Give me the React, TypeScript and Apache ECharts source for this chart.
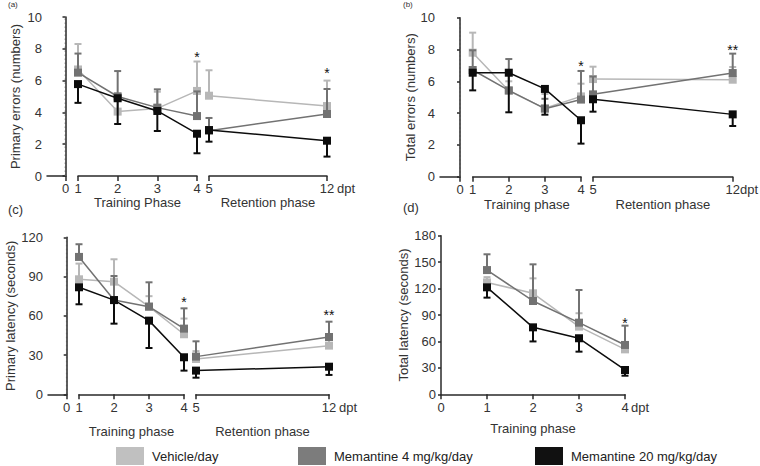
import React, { useEffect, useRef } from 'react';
import * as echarts from 'echarts';

// ---------- data ----------
const trainDays = [1, 2, 3, 4];
const retentionDays = [5, 12];
const groupNames = ['Vehicle/day', 'Memantine 4 mg/kg/day', 'Memantine 20 mg/kg/day'];

// values at days 1,2,3,4 (training) and 5,12 (retention)
// (a) Primary errors (numbers)
const aVehicle = [6.7, 4.05, 4.25, 5.35, 5.05, 4.4];
const aVehicleSem = [1.6, 1.15, 1.05, 1.85, 1.6, 1.6];
const aMem4 = [6.5, 5.0, 4.3, 3.77, 2.85, 3.9];
const aMem4Sem = [1.2, 1.6, 1.15, 1.55, 0.8, 1.57];
const aMem20 = [5.78, 4.89, 4.09, 2.66, 2.89, 2.22];
const aMem20Sem = [1.18, 1.62, 1.26, 1.23, 0.73, 1.0];
const aStars: [number, number, string][] = [[4, 7.75, '*'], [12, 6.7, '*']];

// (b) Total errors (numbers)
const bVehicle = [7.8, 5.4, 4.3, 5.05, 6.14, 6.1];
const bVehicleSem = [1.26, 0.6, 0.9, 0.8, 0.78, 0.8];
const bMem4 = [6.71, 5.43, 4.28, 4.85, 5.18, 6.52];
const bMem4Sem = [1.24, 1.97, 0.62, 1.8, 1.12, 1.22];
const bMem20 = [6.54, 6.54, 5.52, 3.55, 4.87, 3.92];
const bMem20Sem = [1.11, 2.49, 1.62, 1.47, 0.78, 0.73];
const bStars: [number, number, string][] = [[4, 7.23, '*'], [12, 8.22, '**']];

// (c) Primary latency (seconds)
const cVehicle = [87.9, 86.1, 67, 45.9, 27, 37.2];
const cVehicleSem = [12, 17.1, 8, 12, 6, 5];
const cMem4 = [105, 72.1, 67, 50.2, 28.8, 43.8];
const cMem4Sem = [9.7, 18.3, 18.6, 15.5, 11.7, 11.7];
const cMem20 = [81.8, 72, 56.3, 28.3, 18.1, 21.1];
const cMem20Sem = [13, 18, 20.9, 10.2, 5.4, 6.3];
const cStars: [number, number, string][] = [[4, 73.4, '*'], [12, 63.7, '**']];

// (d) Total latency (seconds), training days only
const dVehicle = [127, 114.6, 76.8, 51];
const dVehicleSem = [6, 17, 15.2, 7];
const dMem4 = [141, 105.9, 81.3, 56];
const dMem4Sem = [17.9, 41.6, 37.1, 21.9];
const dMem20 = [121.4, 76, 63.6, 27.6];
const dMem20Sem = [11.7, 16, 15.2, 6.5];
const dStars: [number, number, string][] = [[4, 85.1, '*']];

// ---------- styles ----------
const COLORS = ['#b7b7b7', '#727272', '#0c0c0c'];
const LEGEND_COLORS = ['#c0c0c0', '#7c7c7c', '#111111'];
const ERR_DIR = [1, 1, -1];
const TEXT = '#333';
const AXIS = '#2a2a2a';
const FONT = '"Liberation Sans", Arial, sans-serif';

const errorRender = (color: string) => (params: any, api: any) => {
  const x = api.value(0);
  const m = api.value(1);
  const e = api.value(2);
  const p1 = api.coord([x, m]);
  const p2 = api.coord([x, e]);
  return {
    type: 'group',
    children: [
      { type: 'line', shape: { x1: p1[0], y1: p1[1], x2: p2[0], y2: p2[1] }, style: { stroke: color, lineWidth: 2 } },
      { type: 'line', shape: { x1: p2[0] - 3.5, y1: p2[1], x2: p2[0] + 3.5, y2: p2[1] }, style: { stroke: color, lineWidth: 2 } },
    ],
  };
};

const starRender = (params: any, api: any) => {
  const p = api.coord([api.value(0), api.value(1)]);
  return {
    type: 'text',
    x: p[0],
    y: p[1] + 4,
    style: { text: api.value(2), fill: '#111', fontSize: 14, fontFamily: FONT, align: 'center', verticalAlign: 'middle' },
  };
};

const dottedRender = (params: any, api: any) => {
  const p0 = api.coord([0, api.value(1)]);
  const p1 = api.coord([0, api.value(2)]);
  return {
    type: 'line',
    shape: { x1: p0[0], y1: p0[1], x2: p1[0], y2: p1[1] },
    style: { stroke: '#555', lineWidth: 1.5, lineDash: [1.5, 2.5] },
  };
};

const axisLine = { show: true, lineStyle: { color: AXIS, width: 1.5 } };
const labelStyle = { color: TEXT, fontSize: 13, fontFamily: FONT };
const nameStyle = { color: TEXT, fontSize: 13, fontFamily: FONT };

type Layout = {
  top: number; y0: number; yAxisX: number; zeroX: number;
  trainL: number; trainR: number; retL: number; retR: number;
  yMax: number; yInterval: number; yName: string; yNameGap: number;
  trainName: string; nameGap: number; labelMargin: number;
};

function addBrokenPanel(opt: any, L: Layout, means: number[][], sems: number[][], stars: [number, number, string][]) {
  const gi = opt.grid.length;
  const height = L.y0 - L.top;
  const mkGrid = (left: number, right: number) => ({
    left, top: L.top, width: right - left, height, containLabel: false, outerBoundsMode: 'none',
  });
  opt.grid.push(mkGrid(L.yAxisX, L.zeroX), mkGrid(L.trainL, L.trainR), mkGrid(L.retL, L.retR));

  const tick = { show: true, length: 5, lineStyle: { color: AXIS, width: 1.5 } };
  opt.xAxis.push(
    {
      gridIndex: gi, type: 'value', min: -1, max: 0, interval: 1,
      axisLine, splitLine: { show: false },
      axisTick: { ...tick, customValues: [0] },
      axisLabel: { ...labelStyle, margin: L.labelMargin, customValues: [0] },
    },
    {
      gridIndex: gi + 1, type: 'value', min: 1, max: 4, interval: 1,
      axisLine, splitLine: { show: false }, axisTick: tick,
      axisLabel: { ...labelStyle, margin: L.labelMargin, showMinLabel: true, showMaxLabel: true },
      name: L.trainName, nameLocation: 'middle', nameGap: L.nameGap, nameTextStyle: nameStyle,
    },
    {
      gridIndex: gi + 2, type: 'value', min: 5, max: 12,
      axisLine, splitLine: { show: false },
      axisTick: { ...tick, customValues: retentionDays },
      axisLabel: { ...labelStyle, margin: L.labelMargin, customValues: retentionDays },
      name: 'Retention phase', nameLocation: 'middle', nameGap: L.nameGap, nameTextStyle: nameStyle,
    },
  );
  opt.yAxis.push(
    {
      gridIndex: gi, type: 'value', min: 0, max: L.yMax, interval: L.yInterval,
      axisLine, splitLine: { show: false },
      axisTick: { show: true, length: 3, lineStyle: { color: AXIS, width: 1.5 } },
      axisLabel: { ...labelStyle, margin: 5 },
      name: L.yName, nameLocation: 'middle', nameGap: L.yNameGap, nameTextStyle: nameStyle,
    },
    { gridIndex: gi + 1, type: 'value', min: 0, max: L.yMax, show: false },
    { gridIndex: gi + 2, type: 'value', min: 0, max: L.yMax, show: false },
  );

  opt.series.push({
    type: 'custom', xAxisIndex: gi, yAxisIndex: gi, silent: true,
    data: [[0, 0, L.yMax]], renderItem: dottedRender,
  });

  const segs = [
    { days: trainDays, off: 0, ax: gi + 1 },
    { days: retentionDays, off: 4, ax: gi + 2 },
  ];
  for (let g = 0; g < 3; g++) {
    for (const s of segs) {
      opt.series.push({
        type: 'custom', name: groupNames[g], xAxisIndex: s.ax, yAxisIndex: s.ax, z: 2 + g,
        data: s.days.map((d, i) => [d, means[g][i + s.off], means[g][i + s.off] + ERR_DIR[g] * sems[g][i + s.off]]),
        renderItem: errorRender(COLORS[g]),
        itemStyle: { color: COLORS[g] },
      });
      opt.series.push({
        type: 'line', name: groupNames[g], xAxisIndex: s.ax, yAxisIndex: s.ax, z: 2 + g,
        data: s.days.map((d, i) => [d, means[g][i + s.off]]),
        symbol: 'rect', symbolSize: 8, showSymbol: true,
        lineStyle: { color: COLORS[g], width: 1.5 },
        itemStyle: { color: COLORS[g] },
      });
    }
  }
  for (const st of stars) {
    const ax = st[0] <= 4 ? gi + 1 : gi + 2;
    opt.series.push({ type: 'custom', xAxisIndex: ax, yAxisIndex: ax, z: 10, data: [st], renderItem: starRender });
  }
}

function addSimplePanel(opt: any, means: number[][], sems: number[][], stars: [number, number, string][]) {
  const gi = opt.grid.length;
  opt.grid.push({ left: 441, top: 235.7, width: 184, height: 394.3 - 235.7, containLabel: false, outerBoundsMode: 'none' });
  opt.xAxis.push({
    gridIndex: gi, type: 'value', min: 0, max: 4, interval: 1,
    axisLine, splitLine: { show: false },
    axisTick: { show: true, length: 5, lineStyle: { color: AXIS, width: 1.5 } },
    axisLabel: { ...labelStyle, margin: 7 },
    name: 'Training phase', nameLocation: 'middle', nameGap: 28, nameTextStyle: nameStyle,
  });
  opt.yAxis.push({
    gridIndex: gi, type: 'value', min: 0, max: 180, interval: 30,
    axisLine, splitLine: { show: false },
    axisTick: { show: true, length: 3, lineStyle: { color: AXIS, width: 1.5 } },
    axisLabel: { ...labelStyle, margin: 5 },
    name: 'Total latency (seconds)', nameLocation: 'middle', nameGap: 31, nameTextStyle: nameStyle,
  });
  for (let g = 0; g < 3; g++) {
    opt.series.push({
      type: 'custom', name: groupNames[g], xAxisIndex: gi, yAxisIndex: gi, z: 2 + g,
      data: trainDays.map((d, i) => [d, means[g][i], means[g][i] + ERR_DIR[g] * sems[g][i]]),
      renderItem: errorRender(COLORS[g]),
      itemStyle: { color: COLORS[g] },
    });
    opt.series.push({
      type: 'line', name: groupNames[g], xAxisIndex: gi, yAxisIndex: gi, z: 2 + g,
      data: trainDays.map((d, i) => [d, means[g][i]]),
      symbol: 'rect', symbolSize: 8, showSymbol: true,
      lineStyle: { color: COLORS[g], width: 1.5 },
      itemStyle: { color: COLORS[g] },
    });
  }
  for (const st of stars) {
    opt.series.push({ type: 'custom', xAxisIndex: gi, yAxisIndex: gi, z: 10, data: [st], renderItem: starRender });
  }
}

const txt = (left: number, top: number, text: string, extra: any = {}) => ({
  type: 'text', left, top,
  style: { text, fill: TEXT, fontSize: 13, fontFamily: FONT, ...extra },
});

export default function App() {
  const ref = useRef<HTMLDivElement>(null);
  useEffect(() => {
    if (!ref.current) return;
    const chart = echarts.init(ref.current, null, { renderer: 'svg' });
    const opt: any = {
      animation: false,
      backgroundColor: '#ffffff',
      grid: [], xAxis: [], yAxis: [], series: [],
    };
    addBrokenPanel(opt, {
      top: 17, y0: 176, yAxisX: 47, zeroX: 65.5, trainL: 78, trainR: 197, retL: 209, retR: 327,
      yMax: 10, yInterval: 2, yName: 'Primary errors (numbers)', yNameGap: 25,
      trainName: 'Training Phase', nameGap: 20, labelMargin: 6,
    }, [aVehicle, aMem4, aMem20], [aVehicleSem, aMem4Sem, aMem20Sem], aStars);
    addBrokenPanel(opt, {
      top: 17.7, y0: 176.7, yAxisX: 440, zeroX: 460, trainL: 472.7, trainR: 581, retL: 593, retR: 732.7,
      yMax: 10, yInterval: 2, yName: 'Total errors (numbers)', yNameGap: 23,
      trainName: 'Training phase', nameGap: 21, labelMargin: 6,
    }, [bVehicle, bMem4, bMem20], [bVehicleSem, bMem4Sem, bMem20Sem], bStars);
    addBrokenPanel(opt, {
      top: 237.3, y0: 394.3, yAxisX: 48, zeroX: 66.7, trainL: 79, trainR: 184, retL: 196, retR: 329,
      yMax: 120, yInterval: 30, yName: 'Primary latency (seconds)', yNameGap: 25,
      trainName: 'Training phase', nameGap: 31, labelMargin: 7,
    }, [cVehicle, cMem4, cMem20], [cVehicleSem, cMem4Sem, cMem20Sem], cStars);
    addSimplePanel(opt, [dVehicle, dMem4, dMem20], [dVehicleSem, dMem4Sem, dMem20Sem], dStars);

    const legendLefts = [111, 293, 530];
    opt.legend = groupNames.map((n, i) => ({
      left: legendLefts[i], top: 442, orient: 'horizontal', selectedMode: false,
      icon: 'rect', itemWidth: 28, itemHeight: 18,
      data: [{ name: n, itemStyle: { color: LEGEND_COLORS[i] } }],
      textStyle: { color: '#222', fontSize: 13, fontFamily: FONT, padding: [0, 0, 0, 3] },
    }));

    opt.graphic = [
      txt(8, 0, '(a)', { fontSize: 8 }),
      txt(403, 0, '(b)', { fontSize: 8 }),
      txt(8, 203, '(c)'),
      txt(403, 201, '(d)'),
      txt(337, 182, 'dpt'),
      txt(740, 183, 'dpt'),
      txt(339, 401, 'dpt'),
      txt(631, 401, 'dpt'),
    ];

    chart.setOption(opt);
    return () => chart.dispose();
  }, []);
  return <div ref={ref} style={{ position: 'absolute', left: 0, top: 0, width: 760, height: 466 }} />;
}
